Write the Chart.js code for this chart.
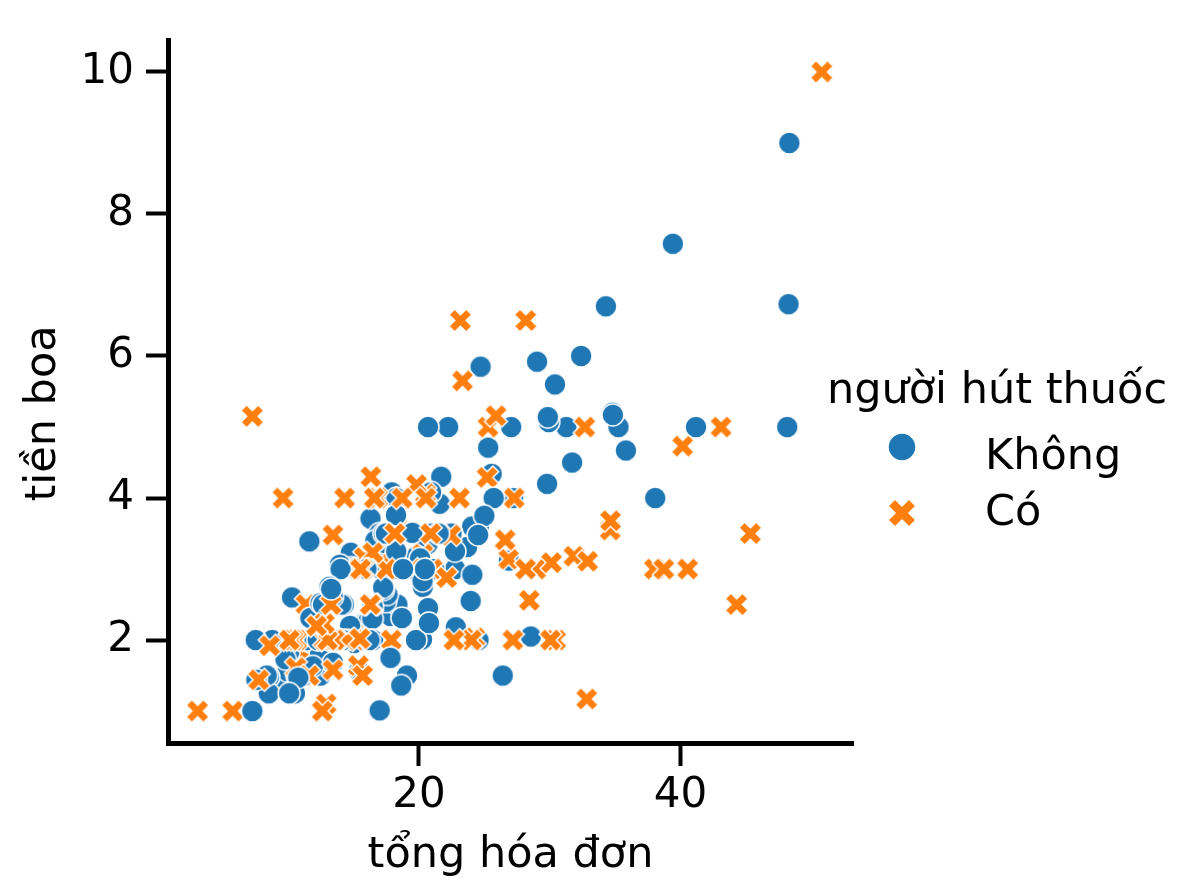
<!DOCTYPE html>
<html>
<head>
<meta charset="utf-8">
<script src="https://cdn.jsdelivr.net/npm/chart.js"></script>
<style>
  body { margin: 0; background: #fff; }
  canvas { display: block; }
</style>
</head>
<body>
<canvas id="tipsChart" width="1184" height="896"></canvas>
<script>
// tips dataset: total bill vs tip, grouped by smoker
const totalBill = [
  16.99,10.34,21.01,23.68,24.59,25.29,8.77,26.88,15.04,14.78,
  10.27,35.26,15.42,18.43,14.83,21.58,10.33,16.29,16.97,20.65,
  17.92,20.29,15.77,39.42,19.82,17.81,13.37,12.69,21.70,19.65,
  9.55,18.35,15.06,20.69,17.78,24.06,16.31,16.93,18.69,31.27,
  16.04,17.46,13.94,9.68,30.40,18.29,22.23,32.40,28.55,18.04,
  12.54,10.29,34.81,9.94,25.56,19.49,38.01,26.41,11.24,48.27,
  20.29,13.81,11.02,18.29,17.59,20.08,16.45,3.07,20.23,15.01,
  12.02,17.07,26.86,25.28,14.73,10.51,17.92,27.20,22.76,17.29,
  19.44,16.66,10.07,32.68,15.98,34.83,13.03,18.28,24.71,21.16,
  28.97,22.49,5.75,16.32,22.75,40.17,27.28,12.03,21.01,12.46,
  11.35,15.38,44.30,22.42,20.92,15.36,20.49,25.21,18.24,14.31,
  14.00,7.25,38.07,23.95,25.71,17.31,29.93,10.65,12.43,24.08,
  11.69,13.42,14.26,15.95,12.48,29.80,8.52,14.52,11.38,22.82,
  19.08,20.27,11.17,12.26,18.26,8.51,10.33,14.15,16.00,13.16,
  17.47,34.30,41.19,27.05,16.43,8.35,18.64,11.87,9.78,7.51,
  14.07,13.13,17.26,24.55,19.77,29.85,48.17,25.00,13.39,16.49,
  21.50,12.66,16.21,13.81,17.51,24.52,20.76,31.71,10.59,10.63,
  50.81,15.81,7.25,31.85,16.82,32.90,17.89,14.48,9.60,34.63,
  34.65,23.33,45.35,23.17,40.55,20.69,20.90,30.46,18.15,23.10,
  15.69,19.81,28.44,15.48,16.58,7.56,10.34,43.11,13.00,13.51,
  18.71,12.74,13.00,16.40,20.53,16.47,26.59,38.73,24.27,12.76,
  30.06,25.89,48.33,13.27,28.17,12.90,28.15,11.59,7.74,30.14,
  12.16,13.42,8.58,15.98,13.42,16.27,10.09,20.45,13.28,22.12,
  24.01,15.69,11.61,10.77,15.53,10.07,12.60,32.83,35.83,29.03,
  27.18,22.67,17.82,18.78
];
const tipAmount = [
  1.01,1.66,3.50,3.31,3.61,4.71,2.00,3.12,1.96,3.23,
  1.71,5.00,1.57,3.00,3.02,3.92,1.67,3.71,3.50,3.35,
  4.08,2.75,2.23,7.58,3.18,2.34,2.00,2.00,4.30,3.00,
  1.45,2.50,3.00,2.45,3.27,3.60,2.00,3.07,2.31,5.00,
  2.24,2.54,3.06,1.32,5.60,3.00,5.00,6.00,2.05,3.00,
  2.50,2.60,5.20,1.56,4.34,3.51,3.00,1.50,1.76,6.73,
  3.21,2.00,1.98,3.76,2.64,3.15,2.47,1.00,2.01,2.09,
  1.97,3.00,3.14,5.00,2.20,1.25,3.08,4.00,3.00,2.71,
  3.00,3.40,1.83,5.00,2.03,5.17,2.00,4.00,5.85,3.00,
  3.00,3.50,1.00,4.30,3.25,4.73,4.00,1.50,3.00,1.50,
  2.50,3.00,2.50,3.48,4.08,1.64,4.06,4.29,3.76,4.00,
  3.00,1.00,4.00,2.55,4.00,3.50,5.07,1.50,1.80,2.92,
  2.31,1.68,2.50,2.00,2.52,4.20,1.48,2.00,2.00,2.18,
  1.50,2.83,1.50,2.00,3.25,1.25,2.00,2.00,2.00,2.75,
  3.50,6.70,5.00,5.00,2.30,1.50,1.36,1.63,1.73,2.00,
  2.50,2.00,2.74,2.00,2.00,5.14,5.00,3.75,2.61,2.00,
  3.50,2.50,2.00,2.00,3.00,3.48,2.24,4.50,1.61,2.00,
  10.00,3.16,5.15,3.18,4.00,3.11,2.00,2.00,4.00,3.55,
  3.68,5.65,3.50,6.50,3.00,5.00,3.50,2.00,3.50,4.00,
  1.50,4.19,2.56,2.02,4.00,1.44,2.00,5.00,2.00,2.00,
  4.00,2.01,2.00,2.50,4.00,3.23,3.41,3.00,2.03,2.23,
  2.00,5.16,9.00,2.50,6.50,1.10,3.00,1.50,1.44,3.09,
  2.20,3.48,1.92,3.00,1.58,2.50,2.00,3.00,2.72,2.88,
  2.00,3.00,3.39,1.47,3.00,1.25,1.00,1.17,4.67,5.92,
  2.00,2.00,1.75,3.00
];
// 0 = Không, 1 = Có
const smokerFlag = [
  0,0,0,0,0,0,0,0,0,0,
  0,0,0,0,0,0,0,0,0,0,
  0,0,0,0,0,0,0,0,0,0,
  0,0,0,0,0,0,0,0,0,0,
  0,0,0,0,0,0,0,0,0,0,
  0,0,0,0,0,0,1,0,1,0,
  1,1,1,1,0,0,0,1,0,1,
  0,0,1,1,0,0,1,0,0,0,
  1,0,0,1,0,0,0,0,0,0,
  1,0,1,1,0,1,1,1,1,0,
  1,1,1,1,0,1,1,1,0,1,
  0,0,0,0,0,0,0,0,0,0,
  0,0,0,0,0,0,0,0,0,0,
  0,0,0,0,0,0,0,0,1,0,
  0,0,0,0,0,0,0,0,0,0,
  0,0,0,0,0,0,0,0,0,0,
  0,0,0,0,1,0,0,0,1,1,
  1,1,1,1,1,1,1,1,1,1,
  1,1,1,1,1,0,1,1,1,1,
  1,1,1,1,1,0,1,1,1,1,
  1,1,1,1,1,1,1,1,1,1,
  1,1,0,1,1,1,1,1,1,1,
  1,1,1,0,1,1,1,0,0,1,
  1,1,0,0,1,0,1,1,0,0,
  1,1,0,0
];
const smokerLabels = ['Không', 'Có'];
const smokerColors = ['#1f77b4', '#ff7f0e'];
const xTicks = [20, 40];
const yTicks = [2, 4, 6, 8, 10];
const xTitle = 'tổng hóa đơn';
const yTitle = 'tiền boa';
const legendTitle = 'người hút thuốc';

const FONT = "'DejaVu Sans', sans-serif";

// matplotlib's filled "X" marker outline
const X_PATH = [[-1,-2],[0,-1],[1,-2],[2,-1],[1,0],[2,1],[1,2],[0,1],[-1,2],[-2,1],[-1,0],[-2,-1]];

function makeMarker(shape, size, fill, edgeW) {
  const pad = Math.ceil(edgeW) + 1;
  const cv = document.createElement('canvas');
  cv.width = cv.height = Math.ceil(size + 2 * pad);
  const g = cv.getContext('2d');
  g.translate(cv.width / 2, cv.height / 2);
  g.beginPath();
  if (shape === 'circle') {
    g.arc(0, 0, size / 2, 0, Math.PI * 2);
  } else {
    X_PATH.forEach(([px, py], i) => {
      const X = px / 4 * size, Y = py / 4 * size;
      if (i) g.lineTo(X, Y); else g.moveTo(X, Y);
    });
    g.closePath();
  }
  g.fillStyle = fill;
  g.fill();
  g.lineWidth = edgeW;
  g.strokeStyle = '#fff';
  g.stroke();
  return cv;
}

const pointImgs = [makeMarker('circle', 22, smokerColors[0], 1.5), makeMarker('x', 23, smokerColors[1], 1.5)];
const legendImgs = [makeMarker('circle', 28, smokerColors[0], 1.5), makeMarker('x', 28, smokerColors[1], 1.5)];

const points = totalBill.map((x, i) => ({ x: x, y: tipAmount[i] }));

const labelsPlugin = {
  id: 'labelsPlugin',
  afterDraw(chart) {
    const c = chart.ctx;
    const a = chart.chartArea;
    c.save();
    c.fillStyle = '#000';
    c.font = '43px ' + FONT;
    c.textBaseline = 'alphabetic';
    // axis titles
    c.textAlign = 'center';
    c.fillText(xTitle, (a.left + a.right) / 2, a.bottom + 124);
    c.save();
    c.translate(a.left - 113, (a.top + a.bottom) / 2 + 22);
    c.rotate(-Math.PI / 2);
    c.fillText(yTitle, 0, 0);
    c.restore();
    // legend
    c.fillText(legendTitle, a.right + 144, a.top + 363);
    c.textAlign = 'left';
    const rows = [{ my: 447, ty: 469 }, { my: 513, ty: 525 }];
    smokerLabels.forEach((lab, k) => {
      const img = legendImgs[k];
      c.drawImage(img, a.right + 49 - img.width / 2, rows[k].my - img.height / 2);
      c.fillText(lab, a.right + 132, rows[k].ty);
    });
    c.restore();
  }
};

new Chart(document.getElementById('tipsChart'), {
  type: 'scatter',
  data: {
    datasets: [{
      label: legendTitle,
      data: points,
      pointStyle: ctx => pointImgs[smokerFlag[ctx.dataIndex]],
      pointRadius: 11,
      backgroundColor: ctx => smokerColors[smokerFlag[ctx.dataIndex]],
      clip: false
    }]
  },
  options: {
    responsive: false,
    animation: false,
    events: [],
    devicePixelRatio: 1,
    layout: { padding: { left: 0, top: 40, right: 331, bottom: 0 } },
    plugins: { legend: { display: false }, tooltip: { enabled: false } },
    scales: {
      x: {
        type: 'linear',
        min: 0.8,
        max: 53.2,
        afterBuildTicks: s => { s.ticks = xTicks.map(v => ({ value: v })); },
        afterFit: s => { s.height = 153; },
        grid: { drawOnChartArea: false, tickLength: 23, tickWidth: 4, tickColor: '#000' },
        border: { display: true, color: '#000', width: 5 },
        ticks: { font: { family: FONT, size: 42 }, color: '#000', padding: 5, maxRotation: 0 }
      },
      y: {
        type: 'linear',
        min: 0.55,
        max: 10.45,
        afterBuildTicks: s => { s.ticks = yTicks.map(v => ({ value: v })); },
        afterFit: s => { s.width = 168; },
        grid: { drawOnChartArea: false, tickLength: 22, tickWidth: 4, tickColor: '#000' },
        border: { display: true, color: '#000', width: 5 },
        ticks: { font: { family: FONT, size: 42 }, color: '#000', padding: 12 }
      }
    }
  },
  plugins: [labelsPlugin]
});
</script>
</body>
</html>
